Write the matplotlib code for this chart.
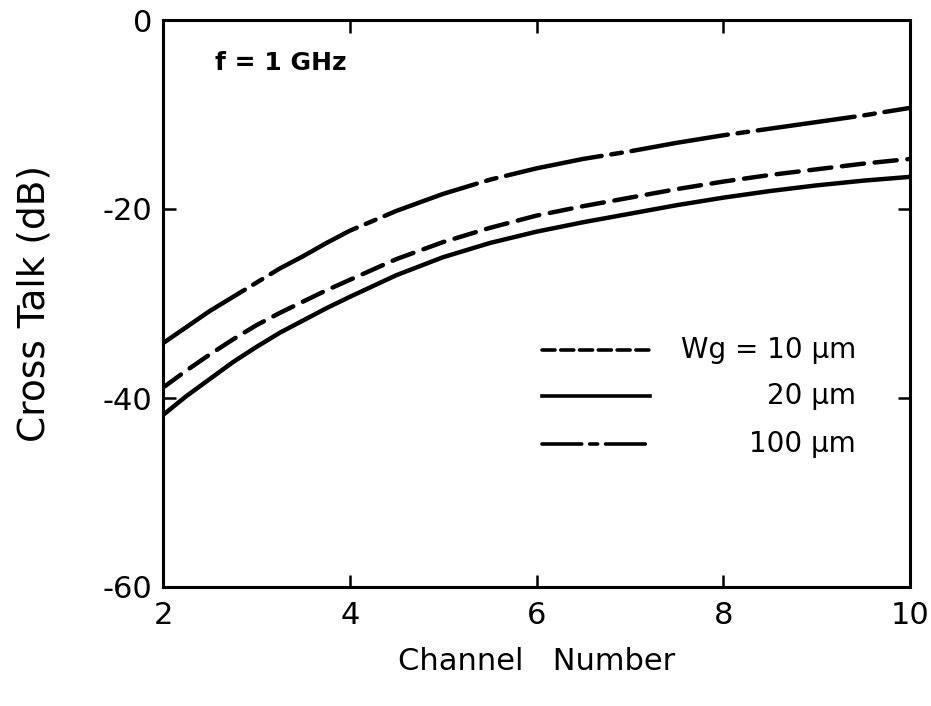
import matplotlib
matplotlib.use("Agg")
import matplotlib.pyplot as plt
from matplotlib.lines import Line2D

plt.rcParams['font.family'] = ['DejaVu Sans']
plt.rcParams['axes.unicode_minus'] = False

# Data
channel = [2, 2.25, 2.5, 2.75, 3, 3.25, 3.5, 3.75, 4, 4.5, 5, 5.5, 6, 6.5, 7, 7.5, 8, 8.5, 9, 9.5, 10]
xt_10um = [-38.9, -37.1, -35.4, -33.8, -32.3, -31.0, -29.8, -28.6, -27.5, -25.3, -23.5,
           -22.0, -20.7, -19.7, -18.8, -17.9, -17.1, -16.4, -15.8, -15.2, -14.7]
xt_20um = [-41.8, -39.8, -38.0, -36.2, -34.6, -33.1, -31.8, -30.5, -29.3, -27.0, -25.1,
           -23.6, -22.4, -21.4, -20.5, -19.6, -18.8, -18.1, -17.5, -17.0, -16.6]
xt_100um = [-34.2, -32.5, -30.8, -29.3, -27.8, -26.3, -25.0, -23.6, -22.3, -20.2, -18.4,
            -16.9, -15.7, -14.7, -13.9, -13.0, -12.2, -11.5, -10.8, -10.1, -9.3]

x_ticks = [2, 4, 6, 8, 10]
y_ticks = [0, -20, -40, -60]
legend_labels = ["Wg = 10 µm", "20 µm", "100 µm"]

fig = plt.figure(figsize=(9.31, 7.06), dpi=100)
ax = fig.add_axes([163/931, 1-587/706, (910-163)/931, (587-20)/706])

lw = 3.2
dashed = (0, (5.0, 2.4))
dashdot = (0, (22, 2.2, 2.4, 2.2))

ax.plot(channel, xt_10um, color='black', lw=lw, linestyle=dashed, dash_capstyle='round')
ax.plot(channel, xt_20um, color='black', lw=lw, linestyle='-', solid_capstyle='round')
ax.plot(channel, xt_100um, color='black', lw=lw, linestyle=dashdot, dash_capstyle='round')

ax.set_xlim(2, 10)
ax.set_ylim(-60, 0)
ax.set_xticks(x_ticks)
ax.set_xticklabels([str(v) for v in x_ticks])
ax.set_yticks(y_ticks)
ax.set_yticklabels([str(v) for v in y_ticks])

for s in ax.spines.values():
    s.set_linewidth(2.2)

ax.tick_params(direction='in', length=9, width=1.8, labelsize=22,
               top=True, right=True, pad=8)
ax.tick_params(axis='x', pad=10)

ax.set_xlabel("Channel   Number", fontsize=22, labelpad=12)
ax.set_ylabel("Cross Talk (dB)", fontsize=27, labelpad=36)

ax.text(0.07, 0.925, "f = 1 GHz", transform=ax.transAxes, fontsize=18,
        fontweight='bold', va='center', ha='left')

# Manual legend (lines + right-aligned texts)
rows_y = [350, 396, 444]
leg_styles = [(0, (3.6, 1.6)), '-', (0, (11, 2.2, 2.2, 2.2))]
x0, x1 = 542, 650
text_right = 856
for ypix, st, lab in zip(rows_y, leg_styles, legend_labels):
    yf = 1 - ypix/706
    ln = Line2D([x0/931, x1/931], [yf, yf], transform=fig.transFigure,
                color='black', lw=2.6, linestyle=st, dash_capstyle='round')
    fig.add_artist(ln)
    fig.text(text_right/931, yf, lab, fontsize=20, ha='right', va='center')

fig.savefig("out.png", dpi=100)
